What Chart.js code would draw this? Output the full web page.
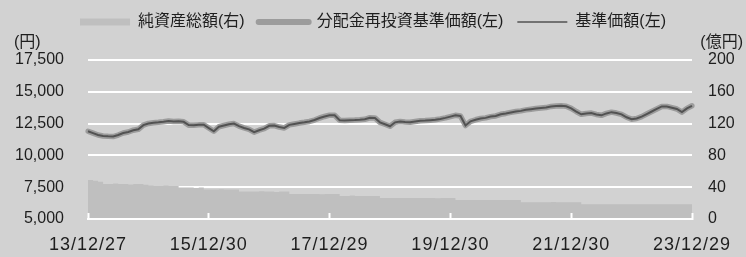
<!DOCTYPE html>
<html><head><meta charset="utf-8">
<script src="https://cdn.jsdelivr.net/npm/chart.js@4"></script>
<style>html,body{margin:0;padding:0;background:#d2d2d2;} #wrap{width:746px;height:257px;}</style>
</head><body><div id="wrap"><canvas id="c" width="746" height="257"></canvas></div>
<script>
const FONT = '"Liberation Sans", "Noto Sans CJK JP", Arial, sans-serif';
const seriesNames = ['純資産総額(右)', '分配金再投資基準価額(左)', '基準価額(左)'];
const tickLabels = ['13/12/27','15/12/30','17/12/29','19/12/30','21/12/30','23/12/29'];
const tickIndices = [0,24,48,72,96,120];
const leftAxis = {min:5000, max:17500, step:2500};
const rightAxis = {min:0, max:200, step:40};
const unitLeft = '(円)';
const unitRight = '(億円)';

// monthly NAV (yen), Dec 2013 .. Dec 2023
const navValues = [
 11900,11750,11600,11530,11500,11480,11600,11760,11840,11980,
 12050,12380,12510,12560,12600,12650,12710,12660,12690,12640,
 12380,12370,12400,12410,12150,11900,12250,12350,12450,12500,
 12300,12160,12050,11830,11980,12100,12330,12350,12230,12160,
 12400,12470,12540,12600,12670,12780,12940,13060,13160,13150,
 12760,12750,12770,12780,12800,12840,12960,12950,12600,12450,
 12290,12600,12660,12620,12600,12660,12720,12740,12770,12800,
 12870,12950,13050,13150,13100,12350,12680,12800,12900,12950,
 13050,13100,13230,13300,13380,13450,13500,13580,13630,13680,
 13720,13760,13850,13880,13900,13860,13700,13450,13230,13300,
 13330,13220,13150,13300,13400,13330,13230,13000,12850,12900,
 13050,13250,13450,13650,13850,13850,13750,13650,13400,13700,
 13900];
// reinvested NAV (identical to NAV: no distributions)
const reinvestValues = navValues.slice();
// net assets (100 million yen)
const netAssets = [
 49,48,47,44,44,44.5,44,44,43.5,44,
 44,43,42,41.5,41.5,42,41.5,41.5,39.5,39.5,
 39.5,39,39.5,37,37,37,37.5,37,37,37,
 34.5,34.5,34.5,34.5,35,34.5,34.5,34,34.5,34.5,
 31.5,31.5,31.5,31.5,31.5,31.5,31,31.5,31.5,31.5,
 29,29,29.5,29,29,29,29,29,26.5,26.5,
 26.5,26.5,26.5,26.5,26.5,26.5,26.5,26.5,26.5,26,
 26.5,26.5,26.5,24,24,24,24,24,24,24,
 24,24,24,24,24,24,21,21,21,21,
 21,21,21.5,21,21,21,21,21,18.5,18.5,
 18.5,18.5,18.5,18.5,18.5,18.5,18.5,18.5,18.5,18.5,
 18.5,18.5,18.5,18.5,18.5,18.5,18.5,18.5,18.5,18.5,
 18.5];

// monthly categories
const categories = [];
for (let i = 0; i < navValues.length; i++) {
  const t = 2013*12 + 11 + i;
  const y = Math.floor(t/12), m = t%12 + 1;
  categories.push(String(y%100).padStart(2,'0') + '/' + String(m).padStart(2,'0'));
}
tickIndices.forEach((k,j) => { categories[k] = tickLabels[j]; });

const BG = '#d2d2d2', AREA = '#bfbfbf', HALO = '#9c9c9c', LINE = '#525252', TXT = '#1e1e1e';

const helpers = {
  id: 'helpers',
  afterInit(chart) {
    const l = chart.legend;
    if (l && !l._fixed) {
      const f = l.fit;
      l.fit = function() { f.call(this); this.height = 60; };
      l._fixed = true;
    }
  },
  beforeDraw(chart) {
    const ctx = chart.ctx;
    ctx.save(); ctx.fillStyle = BG; ctx.fillRect(0,0,chart.width,chart.height); ctx.restore();
    const s = chart.scales.x;
    if (s && !s._wrapped) {
      const orig = s.drawLabels;
      s.drawLabels = function(area) {
        this.ctx.save(); this.ctx.letterSpacing = '1px'; orig.call(this, area); this.ctx.restore();
      };
      s._wrapped = true;
    }
  },
  afterDraw(chart) {
    const ctx = chart.ctx, a = chart.chartArea;
    ctx.save();
    ctx.font = '16px ' + FONT; ctx.fillStyle = TXT; ctx.textBaseline = 'middle';
    ctx.textAlign = 'left'; ctx.fillText(unitLeft, a.left - 74, a.top - 17);
    ctx.textAlign = 'right'; ctx.fillText(unitRight, chart.width - 3, a.top - 17);
    ctx.restore();
  }
};

new Chart(document.getElementById('c'), {
  type: 'line',
  data: {
    labels: categories,
    datasets: [
      { label: seriesNames[0], data: netAssets, yAxisID: 'y1', order: 2, stepped: true,
        fill: 'origin', backgroundColor: AREA, borderWidth: 0, borderColor: AREA, pointRadius: 0 },
      { label: seriesNames[1], data: reinvestValues, yAxisID: 'y', order: 1,
        borderColor: HALO, borderWidth: 5.5, pointRadius: 0, tension: 0, fill: false, borderJoinStyle: 'round', borderCapStyle: 'round' },
      { label: seriesNames[2], data: navValues, yAxisID: 'y', order: 0,
        borderColor: LINE, borderWidth: 2, pointRadius: 0, tension: 0, fill: false }
    ]
  },
  options: {
    responsive: false, animation: false,
    layout: { padding: 0 },
    plugins: {
      tooltip: { enabled: false },
      legend: {
        position: 'top',
        labels: {
          usePointStyle: true, pointStyleWidth: 50, boxHeight: 7, padding: 14,
          color: TXT, font: { size: 16, family: FONT },
          generateLabels: (chart) => chart.data.datasets.map((ds, i) => ({
            text: ds.label, datasetIndex: i, hidden: false,
            pointStyle: i === 0 ? 'rect' : 'line',
            fillStyle: i === 0 ? AREA : 'rgba(0,0,0,0)',
            strokeStyle: i === 0 ? AREA : ds.borderColor,
            lineWidth: i === 0 ? 0 : (i === 1 ? 6 : 1.5),
            lineCap: i === 1 ? 'round' : 'butt',
            fontColor: TXT
          }))
        }
      }
    },
    scales: {
      x: {
        type: 'category',
        grid: { display: true, drawOnChartArea: false, drawTicks: true, tickLength: -6, tickColor: '#fff', tickWidth: 2, color: '#fff', z: 1 },
        border: { display: true, color: '#fff', width: 2, z: 1 },
        ticks: { autoSkip: false, maxRotation: 0, padding: 21, color: TXT, font: { size: 18, family: FONT },
          callback: (v) => { const j = tickIndices.indexOf(v); return j < 0 ? '' : tickLabels[j]; } },
        afterBuildTicks: (s) => { s.ticks = s.ticks.filter(t => tickIndices.includes(t.value)); },
        afterFit: (s) => { s.height = 38; s.paddingLeft = 0; s.paddingRight = 0; }
      },
      y: {
        position: 'left', min: leftAxis.min, max: leftAxis.max,
        ticks: { stepSize: leftAxis.step, padding: 24, color: TXT, font: { size: 16, family: FONT },
          callback: (v) => v.toLocaleString('en-US') },
        grid: { color: '#fff', lineWidth: 2, drawTicks: false },
        border: { display: false },
        afterFit: (s) => { s.width = 88; }
      },
      y1: {
        position: 'right', min: rightAxis.min, max: rightAxis.max,
        ticks: { stepSize: rightAxis.step, padding: 16, color: TXT, font: { size: 16, family: FONT } },
        grid: { display: false, drawTicks: false },
        border: { display: false },
        afterFit: (s) => { s.width = 54; }
      }
    }
  },
  plugins: [helpers]
});
</script>
</body></html>
